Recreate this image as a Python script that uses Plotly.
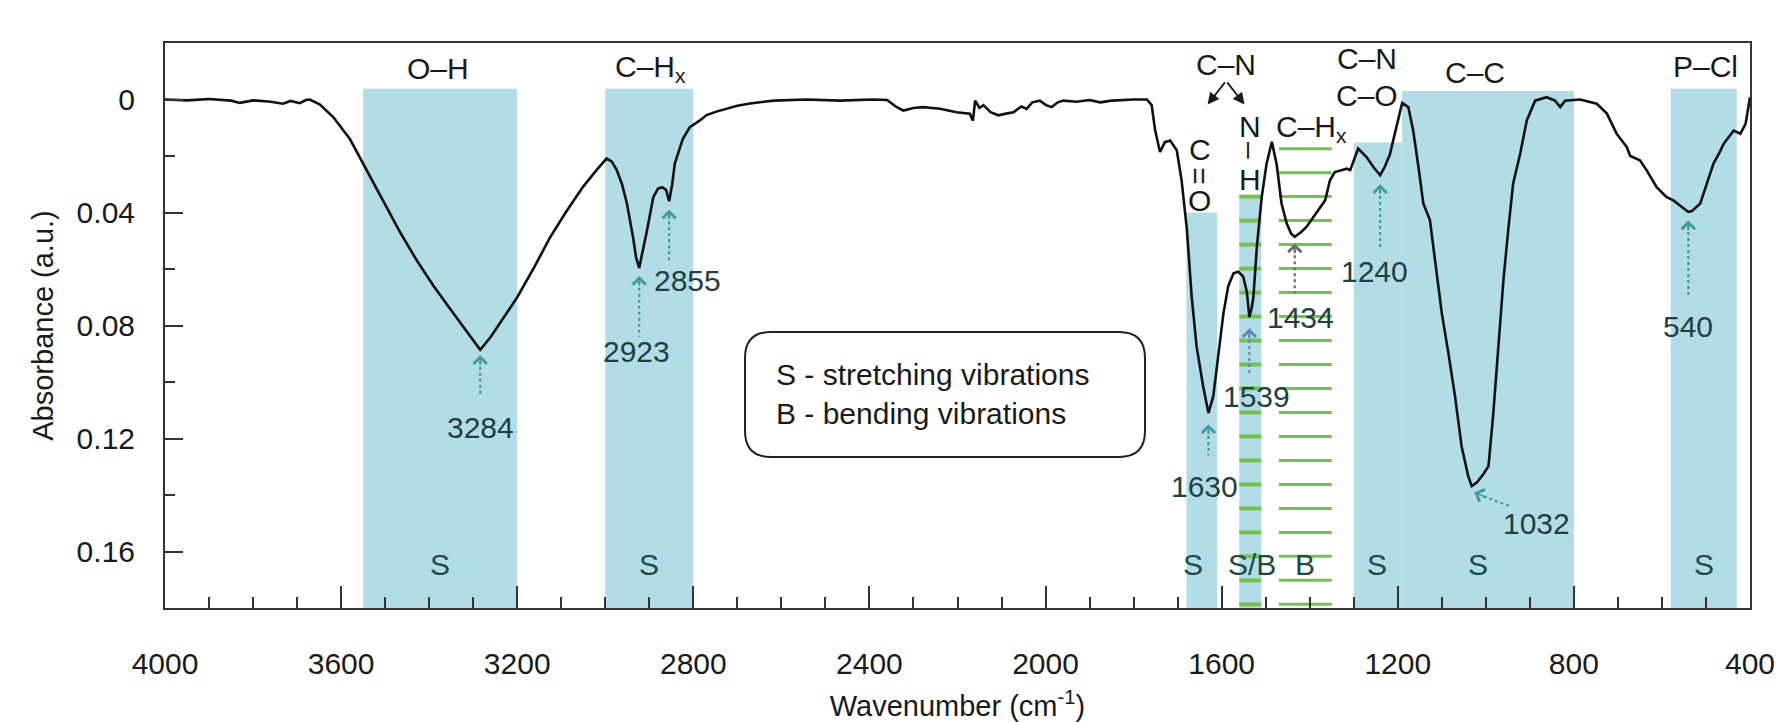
import numpy as np
import plotly.graph_objects as go

# ---------------- data ----------------
wavenumber = [4000, 3950, 3900, 3850, 3830, 3800, 3760, 3732, 3715, 3694, 3680, 3671, 3648, 3618, 3580,
              3542, 3504, 3466, 3428, 3390, 3353, 3320, 3300, 3284, 3260, 3239, 3200, 3160, 3126, 3090,
              3051, 3020, 2997, 2985, 2974, 2962, 2951, 2937, 2930, 2923, 2915, 2905, 2891, 2880, 2871,
              2862, 2855, 2848, 2842, 2830, 2824, 2808, 2785, 2770, 2746, 2700, 2671, 2618, 2543, 2467,
              2391, 2360, 2340, 2323, 2300, 2278, 2240, 2202, 2172, 2165, 2160, 2150, 2141, 2125, 2107,
              2090, 2073, 2055, 2043, 2030, 2013, 1999, 1986, 1972, 1960, 1930, 1900, 1876, 1850, 1800,
              1770, 1759, 1751, 1740, 1729, 1717, 1702, 1691, 1679, 1668, 1657, 1642, 1630, 1619, 1608,
              1596, 1585, 1573, 1562, 1551, 1543, 1537, 1532, 1528, 1520, 1509, 1498, 1486, 1475, 1464,
              1452, 1442, 1434, 1420, 1407, 1384, 1365, 1354, 1343, 1328, 1316, 1308, 1290, 1271, 1255,
              1240, 1230, 1218, 1203, 1190, 1176, 1165, 1153, 1142, 1127, 1115, 1100, 1085, 1070, 1055,
              1040, 1032, 1020, 1005, 994, 983, 972, 960, 949, 938, 922, 907, 888, 862, 843,
              831, 820, 786, 748, 725, 703, 690, 680, 672, 665, 650, 635, 612, 590, 574,
              560, 540, 532, 513, 498, 483, 470, 460, 437, 422, 410, 403, 400]
absorbance = [0.0, 0.0003, -0.0002, 0.0004, 0.0012, 0.0003, 0.0008, 0.0015, 0.0005, 0.0013, 0.0002, 0.0, 0.0018, 0.0062, 0.0140,
              0.0250, 0.0360, 0.0470, 0.0570, 0.0660, 0.0740, 0.0810, 0.0855, 0.0886, 0.0840, 0.0790, 0.0700, 0.0590, 0.0490, 0.0400,
              0.0310, 0.0250, 0.0209, 0.0220, 0.0250, 0.0300, 0.0367, 0.0487, 0.0560, 0.0596, 0.0540, 0.0462, 0.0346, 0.0315, 0.0310,
              0.0320, 0.0360, 0.0300, 0.0226, 0.0168, 0.0140, 0.0098, 0.0074, 0.0055, 0.0042, 0.0022, 0.0014, 0.0004, 0.0, 0.0004,
              0.0, 0.0002, 0.0025, 0.0039, 0.0030, 0.0027, 0.0033, 0.0045, 0.0050, 0.0075, 0.0004, 0.0030, 0.0020, 0.0045, 0.0056,
              0.0050, 0.0045, 0.0025, 0.0033, 0.0010, 0.0004, 0.0020, 0.0027, 0.0010, 0.0004, 0.0008, 0.0002, 0.0010, 0.0004, 0.0,
              0.0, 0.0020, 0.0110, 0.0186, 0.0151, 0.0145, 0.0180, 0.0286, 0.0460, 0.0700, 0.0874, 0.1016, 0.1110, 0.1050, 0.0910,
              0.0757, 0.0660, 0.0615, 0.0610, 0.0627, 0.0680, 0.0770, 0.0740, 0.0700, 0.0520, 0.0345, 0.0227, 0.0150, 0.0230, 0.0368,
              0.0440, 0.0475, 0.0486, 0.0470, 0.0450, 0.0400, 0.0357, 0.0286, 0.0257, 0.0250, 0.0245, 0.0250, 0.0174, 0.0204, 0.0240,
              0.0268, 0.0240, 0.0195, 0.0100, 0.0012, 0.0027, 0.0110, 0.0239, 0.0368, 0.0427, 0.0580, 0.0757, 0.0898, 0.1050, 0.1228,
              0.1333, 0.1369, 0.1355, 0.1325, 0.1298, 0.1110, 0.0874, 0.0639, 0.0460, 0.0298, 0.0192, 0.0074, 0.0004, -0.0008, 0.0004,
              0.0027, 0.0004, 0.0, 0.0015, 0.0050, 0.0121, 0.0150, 0.0168, 0.0200, 0.0204, 0.0215, 0.0250, 0.0310, 0.0345, 0.0357,
              0.0374, 0.0398, 0.0395, 0.0368, 0.0298, 0.0227, 0.0190, 0.0157, 0.0110, 0.0121, 0.0086, 0.0027, -0.0008]

# shaded (stretching) bands: high wn, low wn, top absorbance
band_hi = [3550, 3000, 1680, 1560, 1300, 1190, 580]
band_lo = [3200, 2800, 1610, 1510, 1190, 800, 430]
band_top = [-0.0038, -0.0038, 0.0400, 0.0346, 0.0152, -0.0030, -0.0038]

# bending (C-Hx) hatched band
bend_hi, bend_lo = 1470, 1350

# top group labels
group_labels = ["O–H", "C–H<sub>x</sub>", "C–N", "C–H<sub>x</sub>", "C–N", "C–O", "C–C", "P–Cl"]
group_x = [3380, 2898, 1590, 1395, 1270, 1270, 1025, 500]
group_y = [-0.0110, -0.0110, -0.0124, 0.0102, -0.0145, -0.0014, -0.0095, -0.0117]

# vibration type labels along the bottom
type_labels = ["S", "S", "S", "S/B", "B", "S", "S", "S"]
type_x = [3375, 2900, 1665, 1532, 1411, 1247, 1018, 505]
type_y = 0.1645

# peak annotations: peak wn, arrow tip, line end, label pos
peak_names = ["3284", "2923", "2855", "1630", "1539", "1434", "1240", "540"]
peak_x = [3284, 2923, 2855, 1630, 1537, 1434, 1240, 540]
peak_tip = [0.0905, 0.0625, 0.0390, 0.1150, 0.0810, 0.0510, 0.0300, 0.0428]
peak_end = [0.1050, 0.0840, 0.0570, 0.1260, 0.0970, 0.0685, 0.0526, 0.0700]
label_x = [3284, 2928, 2813, 1638, 1520, 1422, 1252, 540]
label_y = [0.1160, 0.0893, 0.0640, 0.1370, 0.1050, 0.0773, 0.0610, 0.0805]

legend_lines = ["S - stretching vibrations", "B - bending vibrations"]

# ---------------- figure ----------------
FONT = "Liberation Sans, Arial, sans-serif"
BLUE = "#b2dde7"
GREEN = "#72c24f"
TEAL = "#3f9a98"
LABEL = "#1e4040"

fig = go.Figure()
fig.add_trace(go.Scatter(x=wavenumber, y=absorbance, mode="lines",
                         line=dict(color="#111111", width=2.6), showlegend=False, hoverinfo="skip"))

shapes = []
for hi, lo, top in zip(band_hi, band_lo, band_top):
    shapes.append(dict(type="rect", xref="x", yref="y", x0=hi, x1=lo, y0=top, y1=0.18,
                       fillcolor=BLUE, line=dict(width=0), layer="below"))
# green hatching lines
hatch_y = np.linspace(0.0174, 0.1787, 20)
for yy in hatch_y:
    shapes.append(dict(type="line", xref="x", yref="y", x0=bend_hi, x1=bend_lo, y0=yy, y1=yy,
                       line=dict(color=GREEN, width=3), layer="below"))
for yy in hatch_y[2:]:
    shapes.append(dict(type="line", xref="x", yref="y", x0=band_hi[3], x1=band_lo[3], y0=yy, y1=yy,
                       line=dict(color=GREEN, width=4), layer="below"))

annotations = []
# dotted peak lines + chevrons + labels
for name, px_, tip, end, lx, ly in zip(peak_names, peak_x, peak_tip, peak_end, label_x, label_y):
    col = "#6a6a6a" if name == "1434" else ("#5f86b8" if name == "1539" else TEAL)
    shapes.append(dict(type="line", xref="x", yref="y", x0=px_, x1=px_, y0=tip + 0.002, y1=end,
                       line=dict(color=col, width=2.2, dash="dot")))
    annotations.append(dict(x=px_, y=tip, ax=px_, ay=tip + 0.004, xref="x", yref="y", axref="x", ayref="y",
                            text="", showarrow=True, arrowhead=4, arrowsize=1.6, arrowwidth=1.6,
                            arrowcolor=col))
    annotations.append(dict(x=lx, y=ly, xref="x", yref="y", text=name, showarrow=False,
                            font=dict(family=FONT, size=30, color=LABEL)))

# 1032 diagonal annotation
shapes.append(dict(type="line", xref="x", yref="y", x0=1005, x1=945, y0=0.1405, y1=0.1440,
                   line=dict(color=TEAL, width=2.2, dash="dot")))
annotations.append(dict(x=1026, y=0.1390, ax=995, ay=0.1412, xref="x", yref="y", axref="x", ayref="y",
                        text="", showarrow=True, arrowhead=4, arrowsize=1.6, arrowwidth=1.6, arrowcolor=TEAL))
annotations.append(dict(x=884, y=0.1500, xref="x", yref="y", text="1032", showarrow=False,
                        font=dict(family=FONT, size=30, color=LABEL)))

# group labels
for t, gx, gy in zip(group_labels, group_x, group_y):
    annotations.append(dict(x=gx, y=gy, xref="x", yref="y", text=t, showarrow=False,
                            font=dict(family=FONT, size=30, color="#1a1a1a")))
# vertical C=O and N-H
for t, yy, ang in [("C", 0.0177, 0), ("=", 0.0270, 90), ("O", 0.0357, 0)]:
    annotations.append(dict(x=1650, y=yy, xref="x", yref="y", text=t, showarrow=False, textangle=ang,
                            font=dict(family=FONT, size=30, color="#1a1a1a")))
for t, yy, ang in [("N", 0.0095, 0), ("–", 0.0182, 90), ("H", 0.0282, 0)]:
    annotations.append(dict(x=1536, y=yy, xref="x", yref="y", text=t, showarrow=False, textangle=ang,
                            font=dict(family=FONT, size=30, color="#1a1a1a")))
# C-N arrows
for hx in [1632, 1548]:
    annotations.append(dict(x=hx, y=0.0018, ax=1590, ay=-0.0066, xref="x", yref="y", axref="x", ayref="y",
                            text="", showarrow=True, arrowhead=2, arrowsize=1.3, arrowwidth=1.8,
                            arrowcolor="#1a1a1a"))
# S / B labels
for t, tx in zip(type_labels, type_x):
    annotations.append(dict(x=tx, y=type_y, xref="x", yref="y", text=t, showarrow=False,
                            font=dict(family=FONT, size=30, color="#1d4a48")))

# legend box (rounded) in paper coords
L, R, T, B = 165, 1750, 43, 608
def px2paper(px, py):
    return (px - L) / (R - L), 1 - (py - T) / (B - T)
bx0, by0, bx1, by1, rad = 745, 332, 1145, 457, 26
rx, ry = rad / (R - L), rad / (B - T)
x0p, y0p = px2paper(bx0, by0)
x1p, y1p = px2paper(bx1, by1)
path = (f"M {x0p+rx},{y0p} L {x1p-rx},{y0p} Q {x1p},{y0p} {x1p},{y0p-ry} "
        f"L {x1p},{y1p+ry} Q {x1p},{y1p} {x1p-rx},{y1p} L {x0p+rx},{y1p} "
        f"Q {x0p},{y1p} {x0p},{y1p+ry} L {x0p},{y0p-ry} Q {x0p},{y0p} {x0p+rx},{y0p} Z")
shapes.append(dict(type="path", xref="paper", yref="paper", path=path,
                   line=dict(color="#222222", width=2), fillcolor="white"))
annotations.append(dict(x=2617, y=0.1041, xref="x", yref="y", xanchor="left", align="left",
                        text="<br>".join(legend_lines),
                        showarrow=False, font=dict(family=FONT, size=30, color="#1a1a1a")))

fig.update_layout(
    width=1778, height=722,
    margin=dict(l=L, r=1778 - R, t=T, b=722 - B),
    paper_bgcolor="white", plot_bgcolor="white",
    shapes=shapes, annotations=annotations,
    font=dict(family=FONT, size=30, color="#1a1a1a"),
    xaxis=dict(range=[4000, 400], tick0=0, dtick=400, ticks="inside", ticklen=22, tickwidth=2,
               tickcolor="#333333", showline=True, linewidth=2, linecolor="#333333", mirror=True,
               showgrid=False, zeroline=False, ticklabelstandoff=28, automargin=False,
               tickfont=dict(family=FONT, size=30, color="#1a1a1a"),
               minor=dict(ticks="inside", dtick=100, ticklen=11, tickwidth=2, tickcolor="#333333", showgrid=False),
               title=dict(text="Wavenumber (cm<sup>-1</sup>)", standoff=24,
                          font=dict(family=FONT, size=29, color="#1a1a1a"))),
    yaxis=dict(range=[0.18, -0.02], tick0=0, dtick=0.04, ticks="inside", ticklen=18, tickwidth=2,
               tickcolor="#333333", showline=True, linewidth=2, linecolor="#333333", mirror=True,
               showgrid=False, zeroline=False, ticklabelstandoff=22, automargin=False,
               tickfont=dict(family=FONT, size=30, color="#1a1a1a"),
               minor=dict(ticks="inside", dtick=0.02, ticklen=10, tickwidth=2, tickcolor="#333333", showgrid=False),
               title=dict(text="Absorbance (a.u.)", standoff=14,
                          font=dict(family=FONT, size=29, color="#1a1a1a"))),
)

fig.write_html("out.html")
